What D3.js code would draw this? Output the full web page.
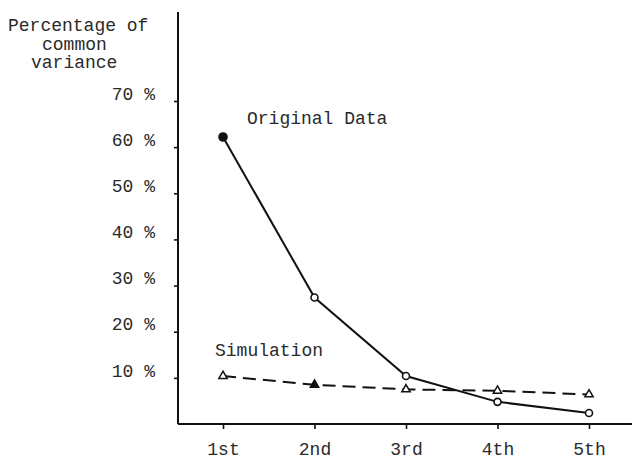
<!DOCTYPE html>
<html>
<head>
<meta charset="utf-8">
<script src="https://cdn.jsdelivr.net/npm/d3@7/dist/d3.min.js"></script>
<style>
  body { margin: 0; background: #fff; }
  svg text { font-family: "Liberation Mono", "DejaVu Sans Mono", monospace; font-size: 18px; fill: #2a2a2a; }
</style>
</head>
<body>
<div id="chart"></div>
<script>
// values
var ranks = ["1st", "2nd", "3rd", "4th", "5th"];
var originalData = [62.2, 27.4, 10.4, 4.8, 2.4];
var simulationData = [10.4, 8.5, 7.5, 7.2, 6.4];
var yTicks = [10, 20, 30, 40, 50, 60, 70];
var titleLines = ["Percentage of", "common", "variance"];

var width = 632, height = 462;
var axisX = 178, axisY = 424;

var svg = d3.select('#chart').append('svg')
    .attr('width', width)
    .attr('height', height);

var x = d3.scalePoint().domain(ranks).range([223, 589]);
var y = d3.scaleLinear().domain([0, 70]).range([axisY, 101]);

// y axis
var yAxis = d3.axisLeft(y)
    .tickValues(yTicks)
    .tickSize(4)
    .tickPadding(19)
    .tickFormat(function(d) { return d + ' %'; });

var gy = svg.append('g')
    .attr('transform', 'translate(' + axisX + ',0)')
    .call(yAxis);
gy.select('.domain').remove();
gy.selectAll('.tick line').attr('stroke', '#111').attr('stroke-width', 1.6);
gy.selectAll('.tick text')
    .attr('dy', '-0.1em')
    .style('font-size', '18px')
    .attr('fill', '#2a2a2a');

svg.append('line')
    .attr('x1', axisX).attr('x2', axisX)
    .attr('y1', 12).attr('y2', axisY)
    .attr('stroke', '#111').attr('stroke-width', 2);

// x axis
var xAxis = d3.axisBottom(x).tickSize(5).tickPadding(20);
var gx = svg.append('g')
    .attr('transform', 'translate(0,' + axisY + ')')
    .call(xAxis);
gx.select('.domain').remove();
gx.selectAll('.tick line').attr('stroke', '#111').attr('stroke-width', 1.6);
gx.selectAll('.tick text')
    .attr('dy', '0.35em')
    .style('font-size', '18px')
    .attr('fill', '#2a2a2a');

svg.append('line')
    .attr('x1', axisX).attr('x2', width)
    .attr('y1', axisY).attr('y2', axisY)
    .attr('stroke', '#111').attr('stroke-width', 2);

// axis title
svg.append('text')
    .selectAll('tspan')
    .data(titleLines)
    .enter().append('tspan')
        .attr('x', function(d, i) { return [8, 42, 31][i]; })
        .attr('y', function(d, i) { return 31 + i * 18.5; })
        .text(function(d) { return d; });

var line = d3.line()
    .x(function(d, i) { return x(ranks[i]); })
    .y(function(d) { return y(d); });

// simulation (dashed)
svg.append('path')
    .datum(simulationData)
    .attr('d', line)
    .attr('fill', 'none')
    .attr('stroke', '#111')
    .attr('stroke-width', 2)
    .attr('stroke-dasharray', '13,7');

// original (solid)
svg.append('path')
    .datum(originalData)
    .attr('d', line)
    .attr('fill', 'none')
    .attr('stroke', '#111')
    .attr('stroke-width', 2);

var tri = d3.symbol().type(d3.symbolTriangle).size(30);
svg.selectAll('path.sim')
    .data(simulationData)
    .enter().append('path')
        .attr('class', 'sim')
        .attr('d', tri)
        .attr('transform', function(d, i) { return 'translate(' + x(ranks[i]) + ',' + y(d) + ')'; })
        .attr('fill', function(d, i) { return i == 1 ? '#111' : '#fff'; })
        .attr('stroke', '#111')
        .attr('stroke-width', 1.5);

svg.selectAll('circle.orig')
    .data(originalData)
    .enter().append('circle')
        .attr('class', 'orig')
        .attr('cx', function(d, i) { return x(ranks[i]); })
        .attr('cy', function(d) { return y(d); })
        .attr('r', function(d, i) { return i == 0 ? 4 : 3.5; })
        .attr('fill', function(d, i) { return i == 0 ? '#111' : '#fff'; })
        .attr('stroke', '#111')
        .attr('stroke-width', 1.6);

// series labels
svg.append('text').attr('x', 247).attr('y', 124).text('Original Data');
svg.append('text').attr('x', 215).attr('y', 356).text('Simulation');
</script>
</body>
</html>
